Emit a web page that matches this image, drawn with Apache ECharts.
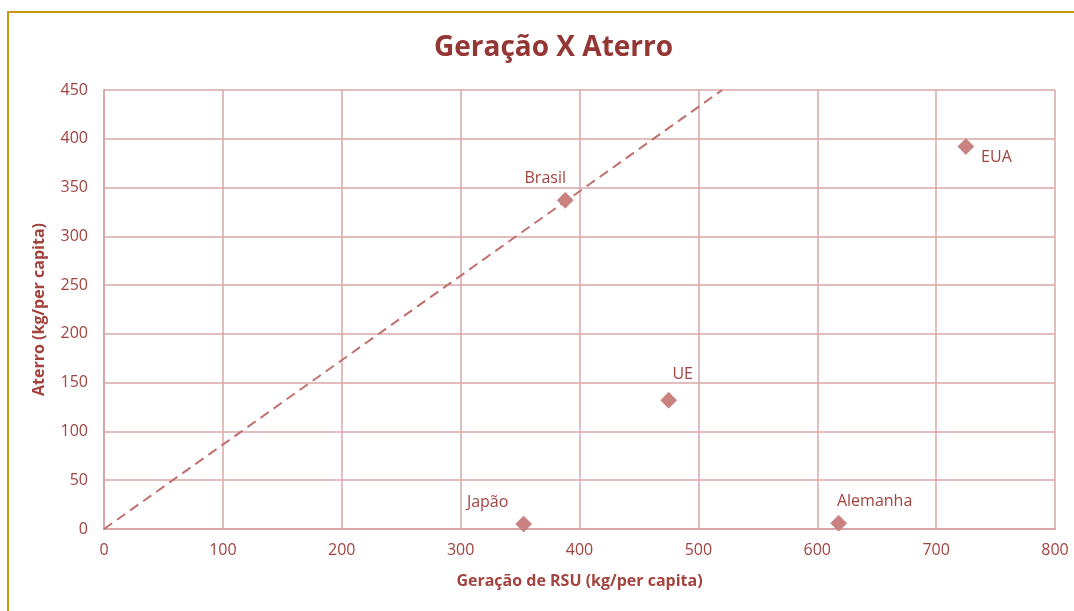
<!DOCTYPE html>
<html>
<head>
<meta charset="utf-8">
<style>
  html, body { margin: 0; padding: 0; background: #ffffff; }
  #frame { position: absolute; left: 7px; top: 11px; right: -4px; bottom: -4px;
           border-top: 2px solid #c59a12; border-left: 2px solid #c59a12; }
  #chart { position: absolute; left: 0; top: 0; width: 1074px; height: 611px; }
</style>
<script src="https://cdn.jsdelivr.net/npm/echarts@6/dist/echarts.min.js"></script>
</head>
<body>
<div id="frame"></div>
<div id="chart"></div>
<script>
// Países: geração de RSU (kg/per capita) x aterro (kg/per capita)
const countries = ['Brasil', 'EUA', 'UE', 'Japão', 'Alemanha'];
const geracao = [388, 725, 475, 353, 618];
const aterro = [337, 392, 132, 5, 6];

// Linha de referência tracejada
const refX = [0, 520];
const refY = [0, 450];

// Eixos
const xTicks = { min: 0, max: 800, interval: 100 };
const yTicks = { min: 0, max: 450, interval: 50 };

const textColor = '#a3433f';
const gridColor = '#d9a7a7';
const markColor = '#c98280';
const font = '"Open Sans", "Noto Sans", sans-serif';

// Posição de cada rótulo em relação ao ponto
const labelPlacement = {
  'Brasil':   { position: 'top', offset: [-20, -1] },
  'EUA':      { position: 'right', offset: [2, 11] },
  'UE':       { position: 'top', offset: [14, -5] },
  'Japão':    { position: 'top', offset: [-36, 0] },
  'Alemanha': { position: 'top', offset: [36, 0] }
};

const points = countries.map((name, i) => ({
  name: name,
  value: [geracao[i], aterro[i]],
  label: Object.assign({
    show: true,
    formatter: name,
    color: textColor,
    fontSize: 16,
    fontFamily: font
  }, labelPlacement[name])
}));

const chart = echarts.init(document.getElementById('chart'), null, { renderer: 'canvas' });
chart.setOption({
  animation: false,
  backgroundColor: 'transparent',
  title: {
    text: 'Geração X Aterro',
    left: 429,
    top: 29,
    textStyle: { color: '#943634', fontSize: 28, fontWeight: 'bold', fontFamily: font }
  },
  grid: { left: 104, right: 19, top: 90, bottom: 82 },
  xAxis: {
    type: 'value',
    min: xTicks.min, max: xTicks.max, interval: xTicks.interval,
    name: 'Geração de RSU (kg/per capita)',
    nameLocation: 'middle',
    nameGap: 44,
    nameTextStyle: { color: textColor, fontSize: 16, fontWeight: 'bold', fontFamily: font },
    axisLine: { show: true, lineStyle: { color: gridColor, width: 2 } },
    axisTick: { show: false },
    axisLabel: { color: textColor, fontSize: 16, fontFamily: font, margin: 13 },
    splitLine: { show: true, lineStyle: { color: gridColor, width: 1.5 } }
  },
  yAxis: {
    type: 'value',
    min: yTicks.min, max: yTicks.max, interval: yTicks.interval,
    name: 'Aterro (kg/per capita)',
    nameLocation: 'middle',
    nameGap: 57,
    nameTextStyle: { color: textColor, fontSize: 16, fontWeight: 'bold', fontFamily: font },
    axisLine: { show: true, lineStyle: { color: gridColor, width: 2 } },
    axisTick: { show: false },
    axisLabel: { color: textColor, fontSize: 16, fontFamily: font, margin: 16 },
    splitLine: { show: true, lineStyle: { color: gridColor, width: 1.5 } }
  },
  series: [
    {
      type: 'line',
      data: refX.map((x, i) => [x, refY[i]]),
      symbol: 'none',
      lineStyle: { color: '#c0706e', width: 2, type: [10, 6] },
      silent: true,
      z: 3
    },
    {
      type: 'scatter',
      data: points,
      symbol: 'diamond',
      symbolSize: 16,
      itemStyle: { color: markColor, borderColor: '#b86a68', borderWidth: 0.5, opacity: 1 },
      z: 4
    }
  ]
});
</script>
</body>
</html>
